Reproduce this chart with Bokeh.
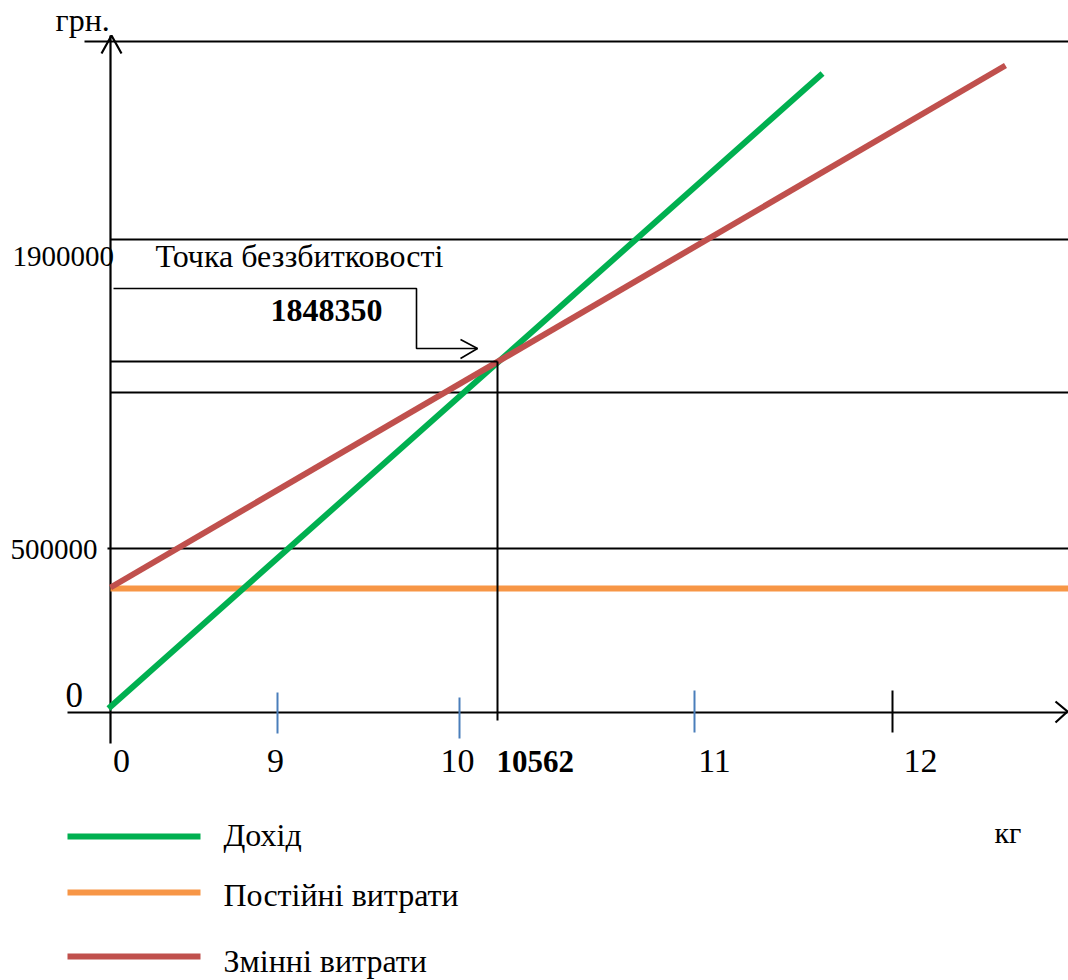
from bokeh.plotting import figure
from bokeh.models import Range1d
from bokeh.core.properties import value
from bokeh.embed import file_html
from bokeh.resources import INLINE

# ---- schematic data (units of the drawing, origin at the axes crossing) ----
# lines of the break-even diagram
revenue_x = [-2, 712]
revenue_y = [4, 639]
fixed_x = [0, 958]
fixed_y = [124, 124]
varcost_x = [0, 895]
varcost_y = [125, 647]

# break-even point
be_x = 387
be_y = 351
be_q_label = "10562"
be_value_label = "1848350"

# horizontal reference levels
level_y = [671, 473, 320, 164]
level_x0 = [-26, 0, 0, -3]
level_x1 = [958, 958, 958, 958]

# x axis ticks & labels
x_tick_pos = [167, 349, 584, 782]
x_tick_top = [20, 15, 22, 22]
x_tick_bot = [-21, -26, -20, -20]
x_tick_color = ["#4A7EBB", "#4A7EBB", "#4A7EBB", "black"]
x_label_pos = [11, 165, 347, 604, 810]
x_labels = ["0", "9", "10", "11", "12"]

# y axis labels
y_labels = ["1900000", "500000"]
y_label_x = [-98, -100]
y_label_y = [445, 152]

legend_labels = ["Дохід", "Постійні витрати", "Змінні витрати"]
legend_colors = ["#00B050", "#F79646", "#C0504D"]
legend_y = [-124, -180, -244]

FONT = value("Liberation Serif")


def bl(y, size):
    # place the alphabetic baseline of a text of the given px size at y
    return y + 0.38 * size


p = figure(width=1068, height=980, x_range=Range1d(-110, 958), y_range=Range1d(-268, 712),
           output_backend="svg", toolbar_location=None, min_border=0,
           x_axis_location=None, y_axis_location=None)
p.grid.visible = False
p.outline_line_color = None
p.background_fill_color = "white"
p.border_fill_color = "white"

# reference horizontal lines
p.segment(x0=level_x0, y0=level_y, x1=level_x1, y1=level_y, line_color="black", line_width=2)

# axes
p.segment(x0=[0], y0=[-31], x1=[0], y1=[677], line_color="black", line_width=2.2)
p.segment(x0=[-43], y0=[0], x1=[957], y1=[0], line_color="black", line_width=2.2)
# axis arrowheads
p.multi_line(xs=[[-9, 1, 11], [945, 957, 945]], ys=[[659, 677, 659], [11, 1, -10]],
             line_color="black", line_width=2.2)

# ticks
p.segment(x0=x_tick_pos, y0=x_tick_top, x1=x_tick_pos, y1=x_tick_bot,
          line_color=x_tick_color, line_width=2)

# bracket with arrow to the break-even point
p.line(x=[3, 306, 306, 367], y=[424, 424, 364, 364], line_color="black", line_width=1.6)
p.line(x=[350, 367, 350], y=[373, 364, 354], line_color="black", line_width=1.6)

# series
p.line(x=fixed_x, y=fixed_y, line_color=legend_colors[1], line_width=6, line_cap="butt")
p.line(x=revenue_x, y=revenue_y, line_color=legend_colors[0], line_width=6, line_cap="butt")
p.line(x=varcost_x, y=varcost_y, line_color=legend_colors[2], line_width=6, line_cap="butt")

# break-even guide lines
p.segment(x0=[0, be_x], y0=[be_y, be_y], x1=[be_x, be_x], y1=[be_y, -8],
          line_color="black", line_width=2)

# texts
p.text(x=[-55], y=[bl(680, 32)], text=["грн."], text_font=FONT, text_font_size=value("32px"),
       text_baseline="alphabetic", text_align="left")
p.text(x=y_label_x, y=[bl(v, 29) for v in y_label_y], text=y_labels, text_font=FONT,
       text_font_size=value("29px"), text_baseline="alphabetic", text_align="left")
p.text(x=[-45], y=[bl(4, 35)], text=["0"], text_font=FONT, text_font_size=value("35px"),
       text_baseline="alphabetic", text_align="left")
p.text(x=[45], y=[bl(444, 32)], text=["Точка беззбитковості"], text_font=FONT,
       text_font_size=value("32px"), text_baseline="alphabetic", text_align="left")
p.text(x=[160], y=[bl(390, 32)], text=[be_value_label], text_font=FONT, text_font_size=value("32px"),
       text_font_style="bold", text_baseline="alphabetic", text_align="left")
p.text(x=x_label_pos, y=[bl(-61, 34)] * len(x_labels), text=x_labels, text_font=FONT,
       text_font_size=value("34px"), text_baseline="alphabetic", text_align="center")
p.text(x=[386], y=[bl(-61, 31)], text=[be_q_label], text_font=FONT, text_font_size=value("31px"),
       text_font_style="bold", text_baseline="alphabetic", text_align="left")
p.text(x=[884], y=[bl(-131, 30)], text=["кг"], text_font=FONT, text_font_size=value("30px"),
       text_baseline="alphabetic", text_align="left")

# legend
for lbl, col, ly in zip(legend_labels, legend_colors, legend_y):
    p.line(x=[-43, 90], y=[ly, ly], line_color=col, line_width=6, line_cap="butt")
p.text(x=[113] * 3, y=[bl(-135, 32), bl(-195, 32), bl(-261, 32)], text=legend_labels, text_font=FONT,
       text_font_size=value("32px"), text_baseline="alphabetic", text_align="left")

open("out.html", "w").write(file_html(p, INLINE))
